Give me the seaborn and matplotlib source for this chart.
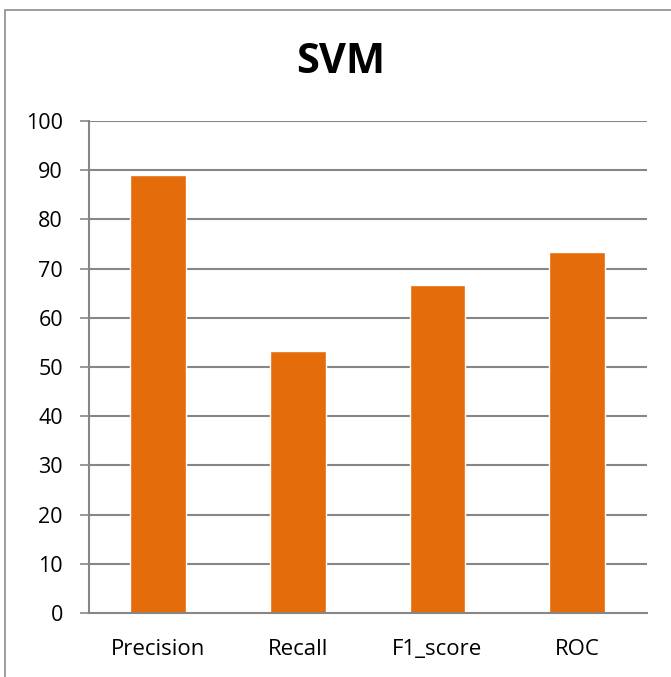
import matplotlib
matplotlib.use("Agg")
import matplotlib.pyplot as plt
import seaborn as sns
import pandas as pd
from matplotlib.patches import Rectangle

metrics = ["Precision", "Recall", "F1_score", "ROC"]
scores = [89.0, 53.3, 66.6, 73.3]
y_ticks = [0, 10, 20, 30, 40, 50, 60, 70, 80, 90, 100]
title = "SVM"

sns.set_theme(style="white")
plt.rcParams["font.family"] = ["Open Sans", "DejaVu Sans"]

df = pd.DataFrame({"metric": metrics, "score": scores})

fig = plt.figure(figsize=(6.71, 6.77), dpi=100)
ax = fig.add_axes([0.132, 0.0945, 0.832, 0.7268])

grid_c = "#868686"
ax.set_axisbelow(True)
for v in y_ticks[1:]:
    ax.axhline(v, color=grid_c, lw=1.5, zorder=0)

sns.barplot(data=df, x="metric", y="score", color="#E46C0A", width=0.4,
            saturation=1, ax=ax, zorder=2)

ax.set_ylim(0, 100)
ax.set_xlim(-0.5, len(metrics) - 0.5)
ax.set_yticks(y_ticks)
ax.set_yticklabels([str(t) for t in y_ticks])
ax.set_xlabel("")
ax.set_ylabel("")

# category boundary ticks on the x axis
ax.set_xticks(range(len(metrics)))
ax.set_xticklabels(metrics)
ax.tick_params(axis="x", length=0, pad=19, labelsize=16, colors="black")
ax.set_xticks([i - 0.5 for i in range(len(metrics) + 1)], minor=True)
ax.tick_params(axis="x", which="minor", length=6.5, width=1.2, color=grid_c, direction="out")
ax.tick_params(axis="y", length=6.5, width=1.2, color=grid_c, pad=12, labelsize=15.5,
               direction="out", left=True)
for lbl in ax.get_yticklabels() + ax.get_xticklabels():
    lbl.set_color("black")

for s in ["top", "right"]:
    ax.spines[s].set_visible(False)
for s in ["left", "bottom"]:
    ax.spines[s].set_color(grid_c)
    ax.spines[s].set_linewidth(1.5)

fig.text(0.507, 0.907, title, ha="center", va="center", fontsize=30,
         fontweight="bold", color="black")

# chart area frame
fig.patches.append(Rectangle((5 / 671, -0.1), 1.2, 1 - 10 / 677 + 0.1,
                             transform=fig.transFigure, fill=False,
                             edgecolor="#8c8c8c", lw=1.2))

fig.savefig("out.png", dpi=100)
